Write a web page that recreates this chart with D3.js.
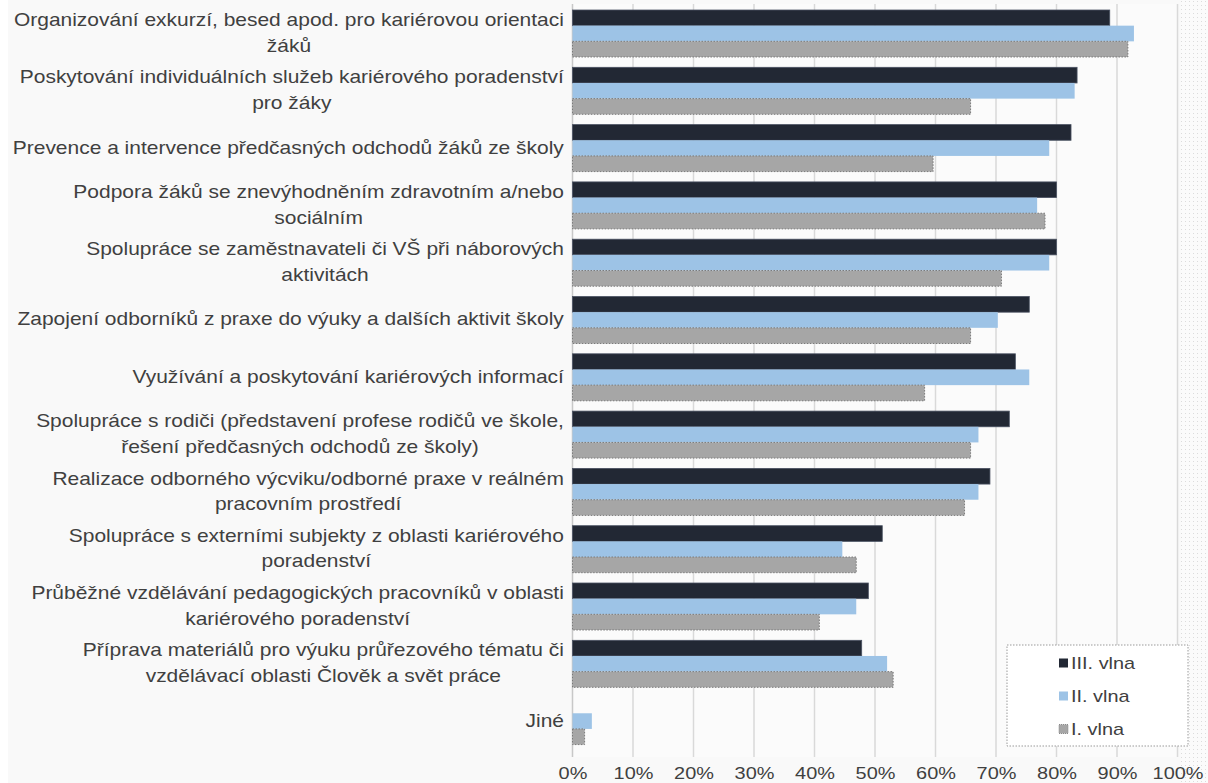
<!DOCTYPE html>
<html><head><meta charset="utf-8">
<script src="https://cdn.jsdelivr.net/npm/d3@7"></script>
<style>
html,body{margin:0;padding:0;background:#ffffff;}
svg{display:block;}
text{font-family:"Liberation Sans",Arial,sans-serif;}
</style></head>
<body>
<svg id="chart" width="1208" height="783"></svg>
<script>
const categories = [
  "Organizování exkurzí, besed apod. pro kariérovou orientaci\nžáků",
  "Poskytování individuálních služeb kariérového poradenství\npro žáky",
  "Prevence a intervence předčasných odchodů žáků ze školy",
  "Podpora žáků se znevýhodněním zdravotním a/nebo\nsociálním",
  "Spolupráce se zaměstnavateli či VŠ při náborových\naktivitách",
  "Zapojení odborníků z praxe do výuky a dalších aktivit školy",
  "Využívání a poskytování kariérových informací",
  "Spolupráce s rodiči (představení profese rodičů ve škole,\nřešení předčasných odchodů ze školy)",
  "Realizace odborného výcviku/odborné praxe v reálném\npracovním prostředí",
  "Spolupráce s externími subjekty z oblasti kariérového\nporadenství",
  "Průběžné vzdělávání pedagogických pracovníků v oblasti\nkariérového poradenství",
  "Příprava materiálů pro výuku průřezového tématu či\nvzdělávací oblasti Člověk a svět práce",
  "Jiné"
];
const seriesNames = ["III. vlna", "II. vlna", "I. vlna"];
const vlna3 = [88.8, 83.4, 82.4, 80.0, 80.0, 75.5, 73.2, 72.2, 69.0, 51.2, 48.9, 47.8, 0];
const vlna2 = [92.8, 83.0, 78.8, 76.8, 78.8, 70.3, 75.5, 67.1, 67.1, 44.6, 46.9, 52.0, 3.2];
const vlna1 = [91.8, 65.8, 59.6, 78.1, 70.9, 65.8, 58.2, 65.8, 64.8, 46.9, 40.8, 53.0, 2.0];
const tickValues = [0, 10, 20, 30, 40, 50, 60, 70, 80, 90, 100];

const seriesValues = [vlna3, vlna2, vlna1];
const colors = ["#222834", "#9dc3e6", "#a6a6a6"];
const strokes = ["#4a5262", "none", "#7a7a7a"];

const svg = d3.select("#chart");
const W = 1208, H = 783;
const SX = 1.17;
const SXL = 1.165;

const defs = svg.append("defs");
const pat = defs.append("pattern").attr("id","dots").attr("width",4).attr("height",4).attr("patternUnits","userSpaceOnUse");
pat.append("rect").attr("width",4).attr("height",4).attr("fill","#fbfbfb");
pat.append("rect").attr("x",1).attr("y",1).attr("width",1).attr("height",1).attr("fill","#dcdcdc");

svg.append("rect").attr("x",8).attr("y",0).attr("width",W-8).attr("height",H).attr("fill","#f9f9f9");

const x = d3.scaleLinear().domain([0, 100]).range([572.5, 1177.5]);
const y = d3.scaleBand().domain(d3.range(categories.length))
  .range([4.85, 749.75]).paddingInner(0.18).paddingOuter(0.09);
const yi = d3.scaleBand().domain(d3.range(seriesNames.length))
  .range([0, y.bandwidth()]).padding(0);

const plotTop = 4, plotBottom = 757;
svg.append("rect").attr("x", x(0)).attr("y", plotTop).attr("width", x(100) - x(0)).attr("height", plotBottom - plotTop).attr("fill","#fbfbfb");
svg.append("rect").attr("x", x(100)+3).attr("y", 0).attr("width", W - x(100) - 3).attr("height", H).attr("fill","url(#dots)");

svg.append("g").selectAll("line").data(tickValues.slice(1)).join("line")
  .attr("x1", d => x(d)).attr("x2", d => x(d))
  .attr("y1", plotTop).attr("y2", plotBottom)
  .attr("stroke", "#d9d9d9").attr("stroke-width", 1.5);
svg.append("line").attr("x1", x(0)).attr("x2", x(0)).attr("y1", plotTop).attr("y2", plotBottom)
  .attr("stroke", "#c8c8c8").attr("stroke-width", 1.5);

const groups = svg.append("g").selectAll("g").data(categories).join("g")
  .attr("transform", (d, i) => `translate(0,${y(i)})`);
groups.selectAll("rect").data((d, i) => seriesValues.map((s, k) => ({k, v: s[i]})).filter(e => e.v > 0))
  .join("rect")
  .attr("x", x(0))
  .attr("y", e => yi(e.k))
  .attr("width", e => x(e.v) - x(0))
  .attr("height", yi.bandwidth())
  .attr("fill", e => colors[e.k])
  .attr("stroke", e => strokes[e.k])
  .attr("stroke-width", e => e.k === 2 ? 1 : 0.8)
  .attr("stroke-dasharray", e => e.k === 2 ? "1.5,1.5" : null);

const labelRight = 564;
const lineH = 25.5;
const labG = svg.append("g");
categories.forEach((c, i) => {
  const lines = c.split("\n");
  const cy = y(i) + y.bandwidth() / 2 - 1;
  const temp = lines.map(l => {
    const t = labG.append("text").attr("font-size", 18).attr("fill", "#404040").text(l);
    const w = t.node().getComputedTextLength() * SXL;
    return {t, w};
  });
  const blockW = d3.max(temp, d => d.w);
  const center = labelRight - blockW / 2;
  temp.forEach((o, j) => {
    const ly = cy + (j - (lines.length - 1) / 2) * lineH;
    o.t.attr("text-anchor", "middle").attr("dominant-baseline", "central")
      .attr("transform", `translate(${center},${ly}) scale(${SXL},1)`);
  });
});

const axis = d3.axisBottom(x).tickValues(tickValues).tickFormat(d => d + "%").tickSize(0).tickPadding(0);
const ax = svg.append("g").attr("transform", `translate(0,${773})`).call(axis);
ax.select(".domain").remove();
ax.selectAll("text").attr("font-size", 17).attr("fill", "#404040")
  .attr("font-family", "Liberation Sans, Arial, sans-serif")
  .attr("dy", null).attr("dominant-baseline", "central")
  .attr("transform", `scale(${SX},1)`);

const lg = svg.append("g");
lg.append("rect").attr("x", 1007).attr("y", 645).attr("width", 181).attr("height", 101)
  .attr("fill", "#ffffff").attr("stroke", "#9a9a9a").attr("stroke-dasharray", "1.5,1.5");
seriesNames.forEach((n, k) => {
  const ly = 663 + k * 33;
  lg.append("rect").attr("x", 1059).attr("y", ly - 4.5).attr("width", 9).attr("height", 9)
    .attr("fill", colors[k]).attr("stroke", k === 2 ? "#8a8a8a" : "none").attr("stroke-dasharray", "1,1");
  lg.append("text").attr("font-size", 17).attr("fill", "#404040")
    .attr("dominant-baseline", "central")
    .attr("transform", `translate(1071,${ly}) scale(${SX},1)`).text(n);
});
</script>
</body></html>
